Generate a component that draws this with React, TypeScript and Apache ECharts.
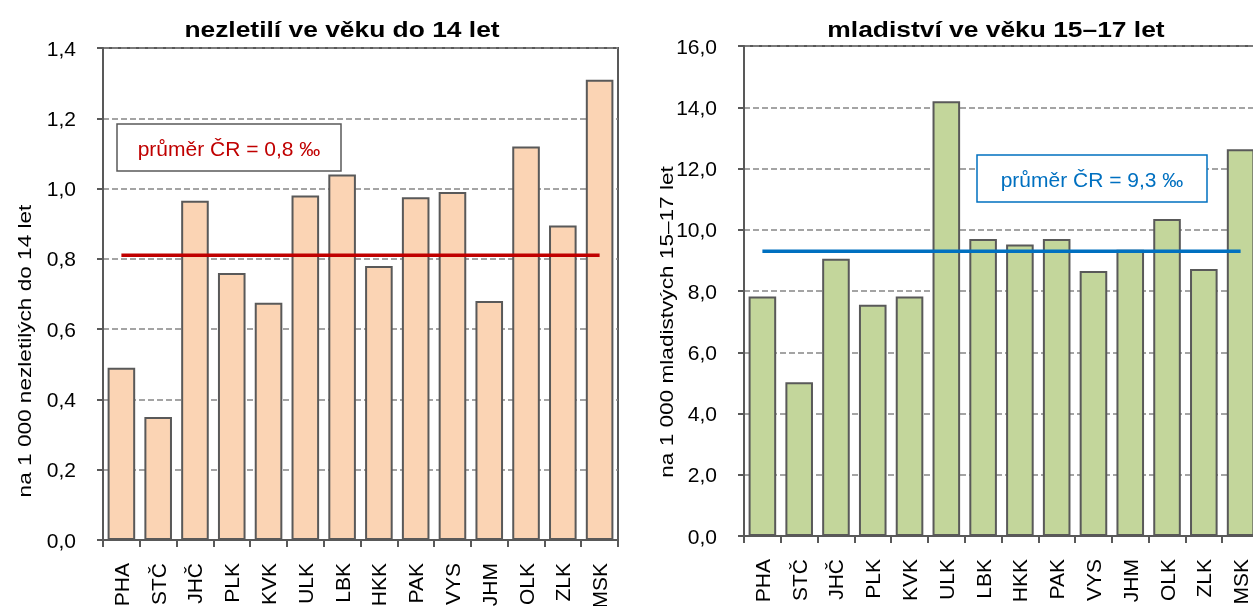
import React, { useEffect, useRef } from "react";
import * as echarts from "echarts";

const categories = ["PHA", "STČ", "JHČ", "PLK", "KVK", "ULK", "LBK", "HKK", "PAK", "VYS", "JHM", "OLK", "ZLK", "MSK"];
const childValues = [0.49, 0.35, 0.965, 0.76, 0.675, 0.98, 1.04, 0.78, 0.975, 0.99, 0.68, 1.12, 0.895, 1.31];
const youthValues = [7.82, 5.02, 9.05, 7.55, 7.82, 14.2, 9.7, 9.52, 9.7, 8.65, 9.35, 10.35, 8.72, 12.63];
const childAvg = 0.81;
const youthAvg = 9.3;
const childTicks = { min: 0, max: 1.4, interval: 0.2 };
const youthTicks = { min: 0, max: 16, interval: 2 };
const childTitle = "nezletilí ve věku do 14 let";
const youthTitle = "mladiství ve věku 15–17 let";
const childAxisName = "na 1 000 nezletilých do 14 let";
const youthAxisName = "na 1 000 mladistvých 15–17 let";
const childAvgLabel = "průměr ČR = 0,8 ‰";
const youthAvgLabel = "průměr ČR = 9,3 ‰";

const FONT = "'Liberation Sans', Arial, sans-serif";
const AXIS = "#595959";

export default function App() {
  const ref = useRef<HTMLDivElement>(null);
  useEffect(() => {
    document.body.style.margin = "0";
    const chart = echarts.init(ref.current!, null, { renderer: "svg" });
    const fmt = (v: number) => v.toFixed(1).replace(".", ",");
    const yAxisBase = (t: any) => ({
      type: "value",
      min: t.min,
      max: t.max,
      interval: t.interval,
      axisLine: { show: true, lineStyle: { color: AXIS, width: 2 } },
      axisTick: { show: true, inside: false, length: 6, lineStyle: { color: AXIS, width: 2 } },
      axisLabel: { formatter: fmt, fontSize: 21, color: "#000", margin: 27, fontFamily: FONT },
      splitLine: { show: true, lineStyle: { color: "#868686", width: 1.5, type: [6, 3] } },
    });
    const xAxisBase = (gi: number) => ({
      type: "category",
      gridIndex: gi,
      data: categories,
      axisLine: { show: true, lineStyle: { color: AXIS, width: 2 } },
      axisTick: { show: true, alignWithLabel: false, length: 7, lineStyle: { color: AXIS, width: 2 } },
      axisLabel: { rotate: 90, fontSize: 21, color: "#000", margin: 23, fontFamily: FONT, interval: 0 },
    });
    chart.setOption({
      animation: false,
      grid: [
        { left: 103, top: 48, width: 515, height: 492, show: true, borderColor: AXIS, borderWidth: 2, backgroundColor: "transparent", containLabel: false, outerBoundsMode: "none" },
        { left: 744, top: 46, width: 515, height: 490, show: true, borderColor: AXIS, borderWidth: 2, backgroundColor: "transparent", containLabel: false, outerBoundsMode: "none" },
      ],
      xAxis: [xAxisBase(0), xAxisBase(1)],
      yAxis: [
        { ...yAxisBase(childTicks), gridIndex: 0 },
        { ...yAxisBase(youthTicks), gridIndex: 1 },
      ],
      series: [
        {
          type: "bar",
          xAxisIndex: 0,
          yAxisIndex: 0,
          data: childValues,
          barCategoryGap: "25%",
          itemStyle: { color: "#FBD4B4", borderColor: AXIS, borderWidth: 2 },
        },
        {
          type: "line",
          xAxisIndex: 0,
          yAxisIndex: 0,
          data: categories.map(() => childAvg),
          symbol: "none",
          lineStyle: { color: "#C00000", width: 3.5 },
          z: 5,
        },
        {
          type: "bar",
          xAxisIndex: 1,
          yAxisIndex: 1,
          data: youthValues,
          barCategoryGap: "25%",
          itemStyle: { color: "#C3D69B", borderColor: AXIS, borderWidth: 2 },
        },
        {
          type: "line",
          xAxisIndex: 1,
          yAxisIndex: 1,
          data: categories.map(() => youthAvg),
          symbol: "none",
          lineStyle: { color: "#0070C0", width: 3.5 },
          z: 5,
        },
      ],
      graphic: [
        { type: "text", x: 342, y: 29, scaleX: 1.2, style: { text: childTitle, font: `bold 22px ${FONT}`, fill: "#000", align: "center", verticalAlign: "middle" } },
        { type: "text", x: 996, y: 29, scaleX: 1.2, style: { text: youthTitle, font: `bold 22px ${FONT}`, fill: "#000", align: "center", verticalAlign: "middle" } },
        { type: "text", x: 24, y: 351, rotation: Math.PI / 2, scaleX: 1.19, style: { text: childAxisName, font: `19px ${FONT}`, fill: "#000", align: "center", verticalAlign: "middle" } },
        { type: "text", x: 666, y: 322, rotation: Math.PI / 2, scaleX: 1.19, style: { text: youthAxisName, font: `19px ${FONT}`, fill: "#000", align: "center", verticalAlign: "middle" } },
        { type: "rect", shape: { x: 117, y: 124, width: 224, height: 47 }, style: { fill: "#fff", stroke: AXIS, lineWidth: 1.5 }, z: 10 },
        { type: "text", x: 229, y: 148, z: 11, style: { text: childAvgLabel, font: `21px ${FONT}`, fill: "#C00000", align: "center", verticalAlign: "middle" } },
        { type: "rect", shape: { x: 977, y: 155, width: 230, height: 47 }, style: { fill: "#fff", stroke: "#0070C0", lineWidth: 1.5 }, z: 10 },
        { type: "text", x: 1092, y: 179, z: 11, style: { text: youthAvgLabel, font: `21px ${FONT}`, fill: "#0070C0", align: "center", verticalAlign: "middle" } },
      ],
    });
    return () => chart.dispose();
  }, []);
  return <div ref={ref} style={{ position: "fixed", left: 0, top: 0, width: 1253, height: 606 }} />;
}
